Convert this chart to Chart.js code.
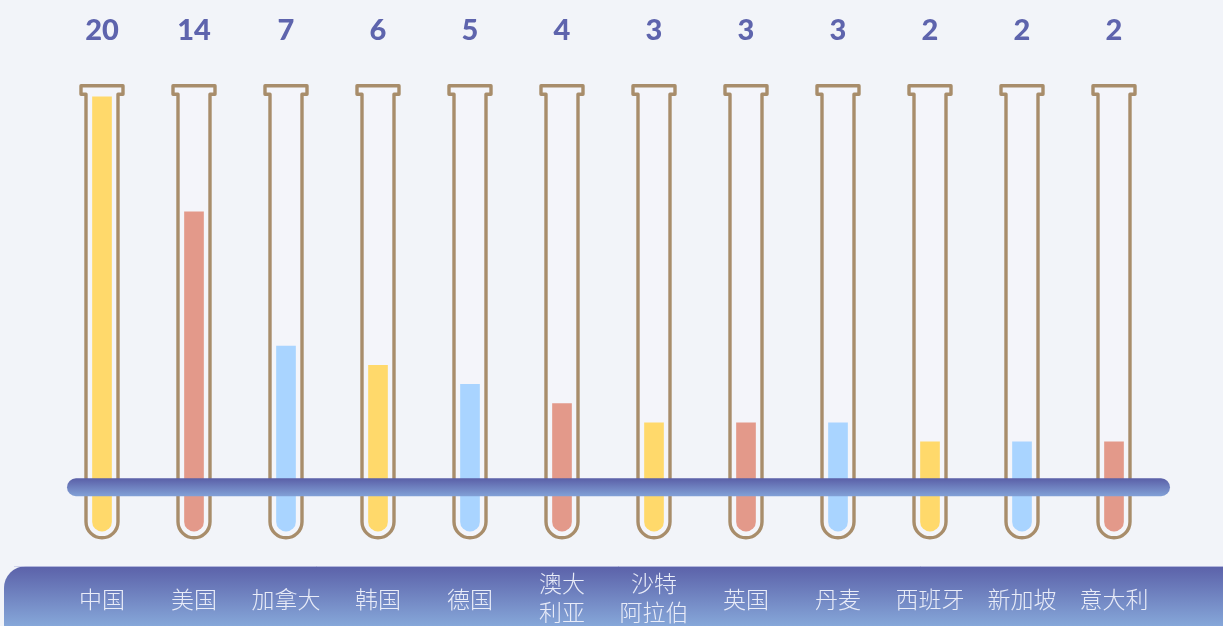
<!DOCTYPE html>
<html>
<head>
<meta charset="utf-8">
<script src="https://cdn.jsdelivr.net/npm/chart.js@4"></script>
<style>
  html, body { margin: 0; padding: 0; background: #f2f4f9; }
  #wrap { width: 1223px; height: 626px; position: relative; }
</style>
</head>
<body>
<div id="wrap"><canvas id="tubeChart" width="1223" height="626"></canvas></div>
<script>
// 数据
const countries = ['中国', '美国', '加拿大', '韩国', '德国', ['澳大', '利亚'], ['沙特', '阿拉伯'], '英国', '丹麦', '西班牙', '新加坡', '意大利'];
const counts = [20, 14, 7, 6, 5, 4, 3, 3, 3, 2, 2, 2];
const liquidColors = ['#ffd96b', '#e3998a', '#a9d4ff', '#ffd96b', '#a9d4ff', '#e3998a',
                      '#ffd96b', '#e3998a', '#a9d4ff', '#ffd96b', '#a9d4ff', '#e3998a'];

// 试管 + 横杆 + 标签
const tubePlugin = {
    id: 'tubes',
    beforeDatasetsDraw(chart) {
        const ctx = chart.ctx;
        const area = chart.chartArea;
        const meta = chart.getDatasetMeta(0);
        const rimTop = area.top + 8;
        const rimBottom = rimTop + 8.5;
        const arcY = area.bottom - 19.8;
        ctx.save();
        ctx.strokeStyle = '#a88d6b';
        ctx.lineWidth = 3.4;
        ctx.lineJoin = 'round';
        meta.data.forEach(bar => {
            const cx = bar.x;
            ctx.beginPath();
            ctx.moveTo(cx - 16, rimBottom);
            ctx.lineTo(cx - 21, rimBottom);
            ctx.lineTo(cx - 21, rimTop);
            ctx.lineTo(cx + 21, rimTop);
            ctx.lineTo(cx + 21, rimBottom);
            ctx.lineTo(cx + 16, rimBottom);
            ctx.lineTo(cx + 16, arcY);
            ctx.arc(cx, arcY, 16, 0, Math.PI, false);
            ctx.closePath();
            ctx.fillStyle = '#f4f5fa';
            ctx.fill();
            ctx.stroke();
        });
        ctx.restore();
    },
    afterDatasetsDraw(chart) {
        const ctx = chart.ctx;
        const area = chart.chartArea;
        const y0 = chart.scales.y.getPixelForValue(0);
        // 横杆
        const top = y0 - 2, h = 18;
        let g = ctx.createLinearGradient(0, top, 0, top + h);
        g.addColorStop(0, '#5a5fa7');
        g.addColorStop(1, '#82a1d7');
        ctx.save();
        ctx.fillStyle = g;
        ctx.beginPath();
        ctx.roundRect(area.left + 11, top, area.right - area.left - 1, h, 9);
        ctx.fill();

        // 底部色带
        const bandTop = 566;
        g = ctx.createLinearGradient(0, bandTop, 0, chart.height);
        g.addColorStop(0, '#5b61a9');
        g.addColorStop(1, '#86a7d9');
        ctx.fillStyle = g;
        ctx.beginPath();
        ctx.roundRect(4, bandTop, chart.width + 20, 80, [22, 0, 0, 22]);
        ctx.fill();
        ctx.strokeStyle = 'rgba(200,204,232,0.8)';
        ctx.lineWidth = 1;
        ctx.beginPath();
        ctx.moveTo(14, bandTop + 0.5);
        ctx.lineTo(chart.width, bandTop + 0.5);
        ctx.stroke();

        // 类别标签
        const x = chart.scales.x;
        ctx.fillStyle = '#e9ecf8';
        ctx.font = '300 23px "Noto Sans CJK SC"';
        ctx.textAlign = 'center';
        ctx.textBaseline = 'middle';
        countries.forEach((name, i) => {
            const cx = x.getPixelForValue(i);
            if (Array.isArray(name)) {
                ctx.fillText(name[0], cx, 583);
                ctx.fillText(name[1], cx, 612);
            } else {
                ctx.fillText(name, cx, 599);
            }
        });

        // 数值
        ctx.fillStyle = '#5e64ad';
        ctx.font = '900 29px "Lato"';
        counts.forEach((v, i) => {
            ctx.fillText(String(v), x.getPixelForValue(i), 31);
        });
        ctx.restore();
    }
};

new Chart(document.getElementById('tubeChart'), {
    type: 'bar',
    data: {
        labels: countries,
        datasets: [{
            data: counts,
            backgroundColor: liquidColors,
            base: -2.65,
            barThickness: 19,
            borderSkipped: false,
            borderRadius: { topLeft: 0, topRight: 0, bottomLeft: 9.5, bottomRight: 9.5 }
        }]
    },
    options: {
        responsive: false,
        animation: false,
        layout: { padding: { left: 56, right: 63, top: 77.7, bottom: 84.4 } },
        plugins: {
            legend: { display: false },
            tooltip: { enabled: false }
        },
        scales: {
            x: { display: false },
            y: { display: false, min: -3.2, max: 21 }
        }
    },
    plugins: [tubePlugin]
});
</script>
</body>
</html>
